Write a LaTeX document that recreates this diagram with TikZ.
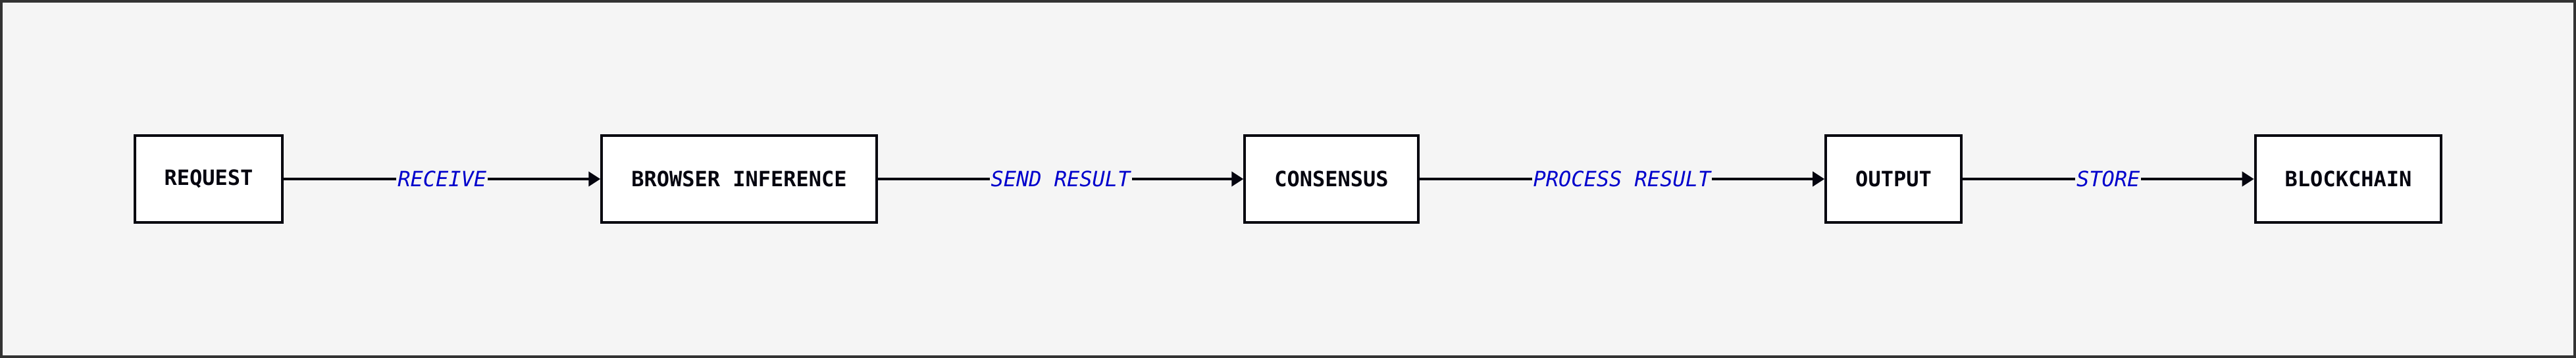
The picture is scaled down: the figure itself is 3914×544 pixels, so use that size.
\documentclass[tikz,border=0pt]{standalone}
\usepackage{fontspec}
\setmonofont{DejaVu Sans Mono}
\usetikzlibrary{arrows.meta}
\definecolor{canvas}{HTML}{F5F5F5}
\definecolor{frame}{HTML}{333333}
\definecolor{ink}{HTML}{05050F}
\definecolor{labelblue}{HTML}{0000CC}
\tikzset{
  stage/.style={draw=ink, fill=white, line width=2pt, minimum height=66pt,
    inner xsep=22.5pt, text=ink, font=\ttfamily\bfseries\fontsize{16}{19}\selectfont},
  flow/.style={draw=ink, -{Triangle[length=9pt,width=11pt]}, line width=2pt},
  flowlabel/.style={fill=canvas, inner xsep=1pt, inner ysep=2pt, text=labelblue,
    font=\ttfamily\itshape\fontsize{16}{19}\selectfont}
}
\begin{document}
\begin{tikzpicture}[x=0.5pt,y=-0.5pt]
    % Canvas
    \useasboundingbox (0,0) rectangle (3914,544);
    \draw[frame, fill=canvas, line width=2pt] (2,2) rectangle (3912,542);
    % Stages
    \node[stage] (request) at (317,272) {REQUEST};
    \node[stage] (browser) at (1123,272) {BROWSER INFERENCE};
    \node[stage] (consensus) at (2023,272) {CONSENSUS};
    \node[stage] (output) at (2877,272) {OUTPUT};
    \node[stage] (chain) at (3568,272) {BLOCKCHAIN};
    % Flows
    \draw[flow] (request) -- node[flowlabel] {RECEIVE} (browser);
    \draw[flow] (browser) -- node[flowlabel] {SEND RESULT} (consensus);
    \draw[flow] (consensus) -- node[flowlabel] {PROCESS RESULT} (output);
    \draw[flow] (output) -- node[flowlabel] {STORE} (chain);
\end{tikzpicture}
\end{document}
